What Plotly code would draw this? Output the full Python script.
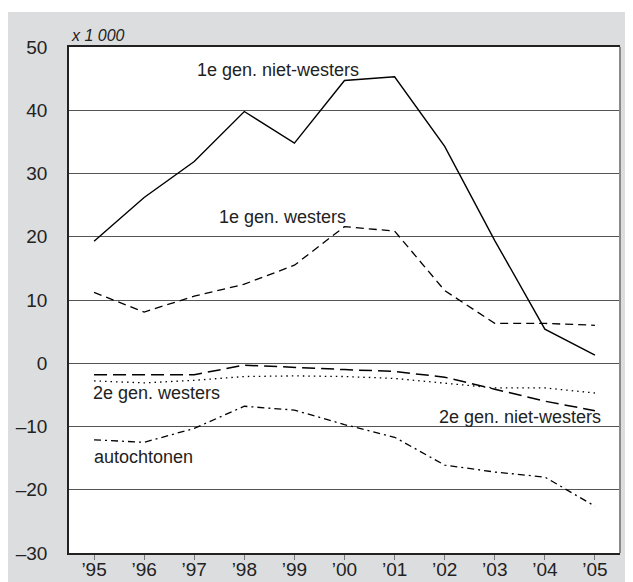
import plotly.graph_objects as go

years = [1995, 1996, 1997, 1998, 1999, 2000, 2001, 2002, 2003, 2004, 2005]
tick_labels = ["’95", "’96", "’97", "’98", "’99", "’00", "’01", "’02", "’03", "’04", "’05"]

gen1_niet_westers = [19.3, 26.2, 31.9, 39.8, 34.8, 44.7, 45.3, 34.3, 19.4, 5.4, 1.3]
gen1_westers = [11.2, 8.1, 10.6, 12.5, 15.5, 21.6, 20.9, 11.5, 6.3, 6.3, 6.0]
gen2_westers = [-2.8, -3.1, -2.7, -2.1, -2.0, -2.1, -2.4, -3.1, -3.9, -3.9, -4.7]
gen2_niet_westers = [-1.8, -1.8, -1.8, -0.3, -0.7, -1.0, -1.3, -2.2, -4.1, -6.0, -7.5]
autochtonen = [-12.1, -12.5, -10.3, -6.8, -7.4, -9.7, -11.7, -16.1, -17.2, -18.0, -22.6]

FONT = "Liberation Sans, Arial, sans-serif"

fig = go.Figure()
series = [
    (gen1_niet_westers, "solid", 1.4),
    (gen1_westers, "8px,5px", 1.3),
    (gen2_westers, "1.5px,4px", 1.3),
    (gen2_niet_westers, "13px,6px", 1.5),
    (autochtonen, "7px,4px,2px,4px", 1.3),
]
for vals, dash, w in series:
    fig.add_trace(go.Scatter(x=years, y=vals, mode="lines",
                             line=dict(color="black", width=w, dash=dash),
                             showlegend=False, hoverinfo="skip"))

labels = [
    ("1e gen. niet-westers", 1998.67, 46.3, "center"),
    ("1e gen. westers", 1998.77, 23.2, "center"),
    ("2e gen. westers", 1994.93, -4.7, "left"),
    ("autochtonen", 1994.95, -14.8, "left"),
    ("2e gen. niet-westers", 2005.16, -8.5, "right"),
]
for txt, x, y, anc in labels:
    fig.add_annotation(x=x, y=y, text=txt, showarrow=False, xanchor=anc,
                       yanchor="middle", font=dict(size=18, color="#222", family=FONT))

fig.add_annotation(x=0, y=1, xref="x domain", yref="y domain", text="<i>x 1 000</i>",
                   showarrow=False, xanchor="left", yanchor="bottom", yshift=1,
                   font=dict(size=16, color="#222", family=FONT))

fig.add_shape(type="rect", xref="paper", yref="paper", x0=-61/551, x1=1.1, y0=-0.2, y1=541/506,
              fillcolor="#dcdddf", line_width=0, layer="below")
fig.add_shape(type="rect", xref="x domain", yref="y domain", x0=0, x1=1, y0=0, y1=1,
              fillcolor="white", line_width=0, layer="below")
fig.add_shape(type="line", xref="x domain", yref="y domain", x0=1, x1=1, y0=0, y1=1,
              line=dict(color="#8a8a8a", width=2), layer="above")

fig.update_xaxes(range=[1994.5, 2005.5], tickvals=years, ticktext=tick_labels,
                 showgrid=False, zeroline=False, showline=True, mirror=True,
                 linecolor="#222", linewidth=1.5, ticks="outside", ticklen=5,
                 tickcolor="#777", tickwidth=1, ticklabelstandoff=-7,
                 tickfont=dict(size=19, color="#222", family=FONT))
fig.update_yaxes(range=[-30, 50], tickvals=[-30, -20, -10, 0, 10, 20, 30, 40, 50],
                 ticktext=["–30", "–20", "–10", "0", "10", "20", "30", "40", "50"],
                 showgrid=True, gridcolor="#555", gridwidth=1.2, zeroline=False,
                 showline=True, linecolor="#222", linewidth=1.5, ticks="",
                 ticklabelstandoff=16,
                 tickfont=dict(size=19, color="#222", family=FONT))

fig.update_layout(width=633, height=582,
                  margin=dict(l=61, r=21, t=39, b=37, autoexpand=False),
                  paper_bgcolor="white", plot_bgcolor="rgba(0,0,0,0)")

fig.write_html("out.html")
